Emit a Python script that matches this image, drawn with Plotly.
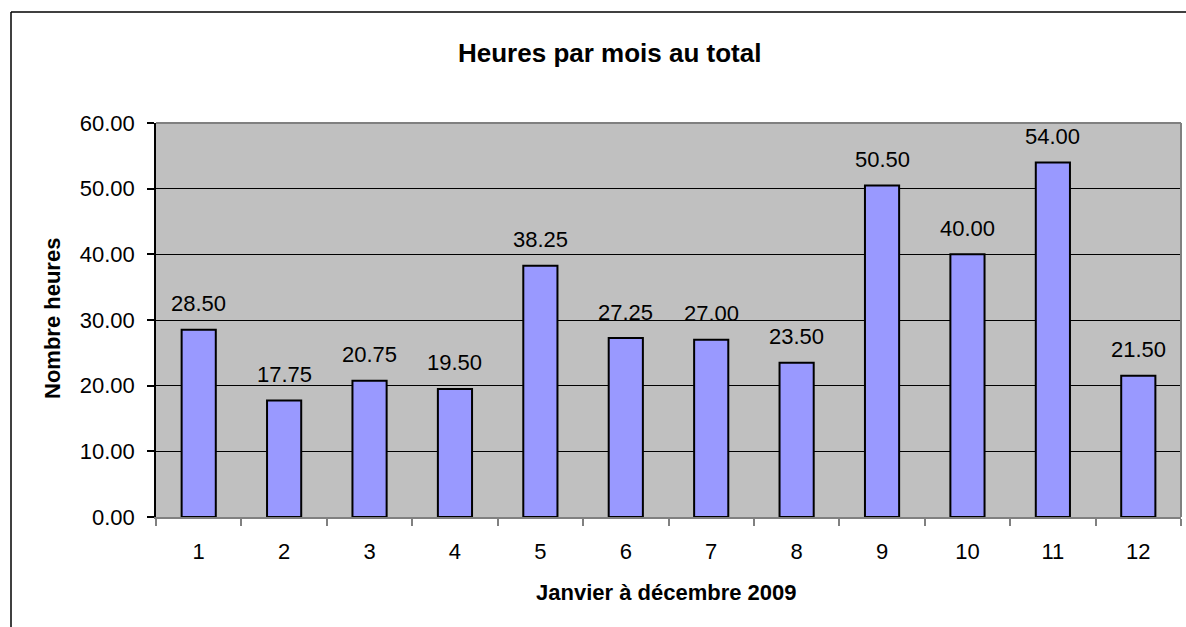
import plotly.graph_objects as go

months = ["1", "2", "3", "4", "5", "6", "7", "8", "9", "10", "11", "12"]
hours = [28.50, 17.75, 20.75, 19.50, 38.25, 27.25, 27.00, 23.50, 50.50, 40.00, 54.00, 21.50]
y_ticks = [0, 10, 20, 30, 40, 50, 60]

title_text = "Heures par mois au total"
x_title = "Janvier à décembre 2009"
y_title = "Nombre heures"

FONT = "Liberation Sans, Arial, sans-serif"

W, H = 1186, 627
L, R, T, B = 156, 5, 123, 110
pw, ph = W - L - R, H - T - B

def px_x(px):
    return (px - L) / pw

def px_y(py):
    return (H - B - py) / ph

fig = go.Figure()
fig.add_trace(go.Bar(
    x=months, y=hours, width=0.4,
    marker=dict(color="#9999FF", line=dict(color="black", width=2)),
    hoverinfo="x+y",
))

annotations = []
for i, v in enumerate(hours):
    annotations.append(dict(
        x=i, y=v, xref="x", yref="y", text=f"{v:.2f}", showarrow=False,
        yanchor="middle", yshift=26, font=dict(family=FONT, size=22, color="black"),
    ))

annotations.append(dict(
    x=px_x(609), y=px_y(53), xref="paper", yref="paper", text=f"<b>{title_text}</b>",
    showarrow=False, xanchor="center", yanchor="middle",
    font=dict(family=FONT, size=26, color="black"),
))
annotations.append(dict(
    x=px_x(666), y=px_y(592), xref="paper", yref="paper", text=f"<b>{x_title}</b>",
    showarrow=False, xanchor="center", yanchor="middle",
    font=dict(family=FONT, size=22, color="black"),
))
annotations.append(dict(
    x=px_x(52), y=px_y(319), xref="paper", yref="paper", text=f"<b>{y_title}</b>",
    showarrow=False, xanchor="center", yanchor="middle", textangle=-90,
    font=dict(family=FONT, size=22, color="black"),
))

shapes = [
    dict(type="line", xref="paper", yref="paper",
         x0=px_x(11), x1=px_x(1186), y0=px_y(12), y1=px_y(12),
         line=dict(color="black", width=1.5), layer="below"),
    dict(type="line", xref="paper", yref="paper",
         x0=px_x(11), x1=px_x(11), y0=px_y(12), y1=px_y(627),
         line=dict(color="black", width=1.5), layer="below"),
    dict(type="line", xref="paper", yref="paper", x0=0, x1=1, y0=1, y1=1,
         line=dict(color="#808080", width=2)),
    dict(type="line", xref="paper", yref="paper", x0=1, x1=1, y0=0, y1=1,
         line=dict(color="#808080", width=2)),
]

fig.update_layout(
    width=W, height=H,
    margin=dict(l=L, r=R, t=T, b=B, pad=0),
    paper_bgcolor="white", plot_bgcolor="#C0C0C0",
    showlegend=False,
    font=dict(family=FONT, size=22, color="black"),
    annotations=annotations, shapes=shapes,
    bargap=0.6,
)
fig.update_xaxes(
    type="category", range=[-0.5, len(months) - 0.5],
    tickson="boundaries", ticks="outside", ticklen=7, tickwidth=1.5,
    tickcolor="#808080", showline=True, linecolor="#808080", linewidth=2,
    showgrid=False, tickfont=dict(family=FONT, size=22, color="black"),
    ticklabelstandoff=14,
)
fig.update_yaxes(
    range=[0, 60], tickvals=y_ticks, ticktext=[f"{v:.2f}" for v in y_ticks],
    ticks="outside", ticklen=7, tickwidth=1.5, tickcolor="black",
    showline=True, linecolor="black", linewidth=1.5,
    showgrid=True, gridcolor="black", gridwidth=1,
    zeroline=False, tickfont=dict(family=FONT, size=22, color="black"),
    ticklabelstandoff=8,
)

fig.write_html(
    "out.html", config={"displayModeBar": False},
    post_script=("document.body.style.margin='0';"
                 "document.body.style.overflow='hidden';"
                 "document.documentElement.style.overflow='hidden';"),
)
